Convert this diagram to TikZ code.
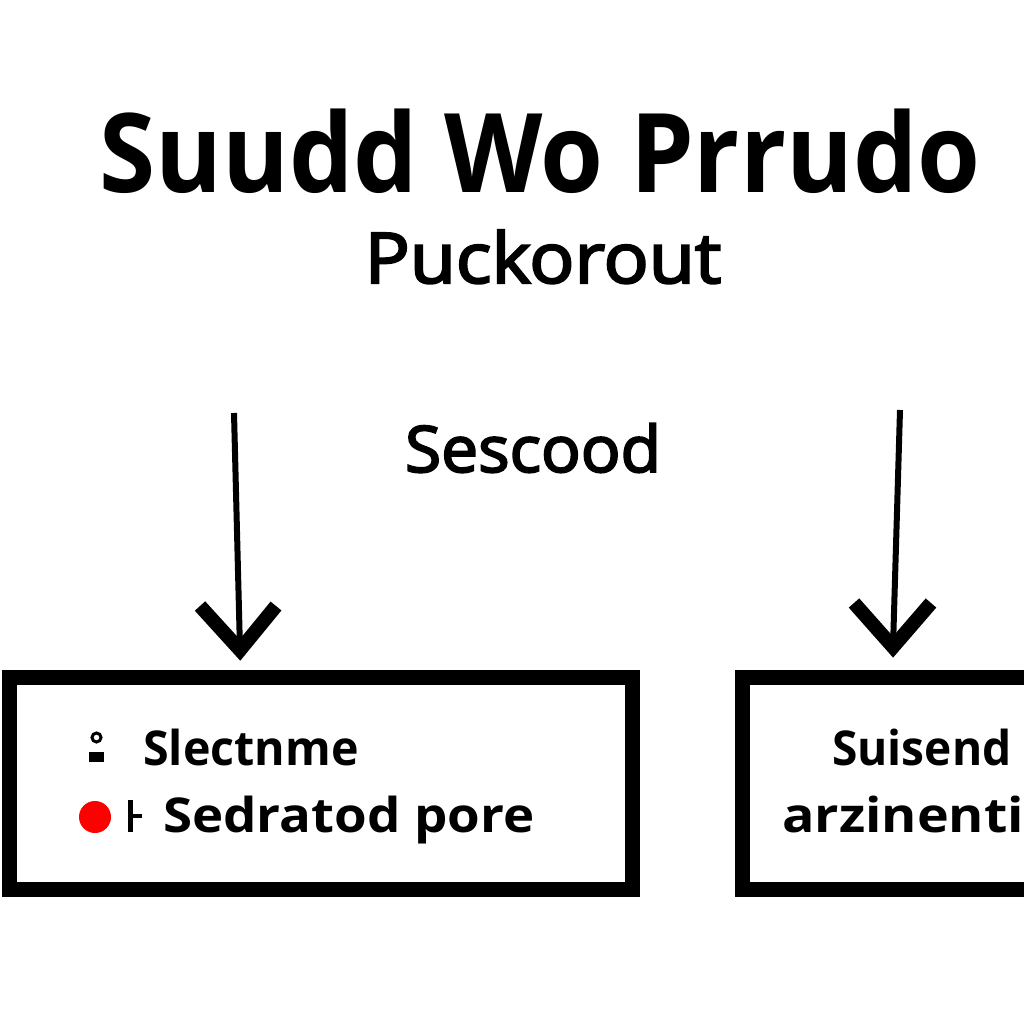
\documentclass[tikz,border=0pt]{standalone}
\usepackage{fontspec}
\setmainfont{Open Sans}
\newfontfamily\medfont{Open Sans}[FakeBold=3]
\usetikzlibrary{calc}
\tikzset{
  boxframe/.style={draw=black, line width=15pt, fill=white, inner sep=0pt},
  shaft/.style={draw=black, line width=6pt},
  vhead/.style={draw=black, line width=14pt, miter limit=10},
  titletext/.style={inner sep=0pt, anchor=base, font=\fontsize{110}{120}\selectfont\bfseries},
  subtext/.style={inner sep=0pt, anchor=base, font=\fontsize{70}{80}\selectfont\medfont},
  midtext/.style={inner sep=0pt, anchor=base, font=\fontsize{64}{72}\selectfont\medfont},
  boxtext/.style={inner sep=0pt, anchor=base west, font=\fontsize{48}{56}\selectfont\bfseries},
}
\begin{document}
\begin{tikzpicture}[x=1pt,y=-1pt]
\clip (0,0) rectangle (1024,1024);
\fill[white] (0,0) rectangle (1024,1024);
% title
\node[titletext] (title) at (540,193) {\scalebox{0.925}[1]{Suudd Wo Prrudo}};
\node[subtext] (sub) at (543,283) {\scalebox{1.07}[1]{Puckorout}};
\node[midtext] (mid) at (533,472) {\scalebox{1.03}[1]{Sescood}};
% boxes
\node[boxframe, minimum width=623pt, minimum height=212pt] (leftbox) at (321,783.5) {};
\node[boxframe, minimum width=310pt, minimum height=212pt] (rightbox) at (897.5,783.5) {};
% arrows
\coordinate (a1top) at (234,413);
\coordinate (a1tip) at (240,650);
\coordinate (a2top) at (900,410);
\coordinate (a2tip) at (893,647);
\draw[shaft] (a1top) -- (a1tip);
\draw[vhead] ($(a1tip)+(-40,-44)$) -- (a1tip) -- ($(a1tip)+(36,-44)$);
\draw[shaft] (a2top) -- (a2tip);
\draw[vhead] ($(a2tip)+(-39,-44)$) -- (a2tip) -- ($(a2tip)+(38,-44)$);
% left box contents
\draw[line width=3pt] (96.5,737.5) circle (4.5pt);
\fill (89,752) rectangle (104,762);
\node[boxtext] (l1) at (143,765) {\scalebox{0.97}[1]{Slectnme}};
\fill[red] (95,817) circle (16pt);
\fill (128,800) rectangle (133,832);
\fill (128,814) rectangle (142,818);
\node[boxtext] (l2) at (163,832) {\scalebox{1.1}[1]{Sedratod pore}};
% right box contents
\node[boxtext] (r1) at (832,765) {\scalebox{0.96}[1]{Suisend}};
\node[boxtext] (r2) at (782,832) {\scalebox{1.12}[1]{arzinenti}};
\end{tikzpicture}
\end{document}
